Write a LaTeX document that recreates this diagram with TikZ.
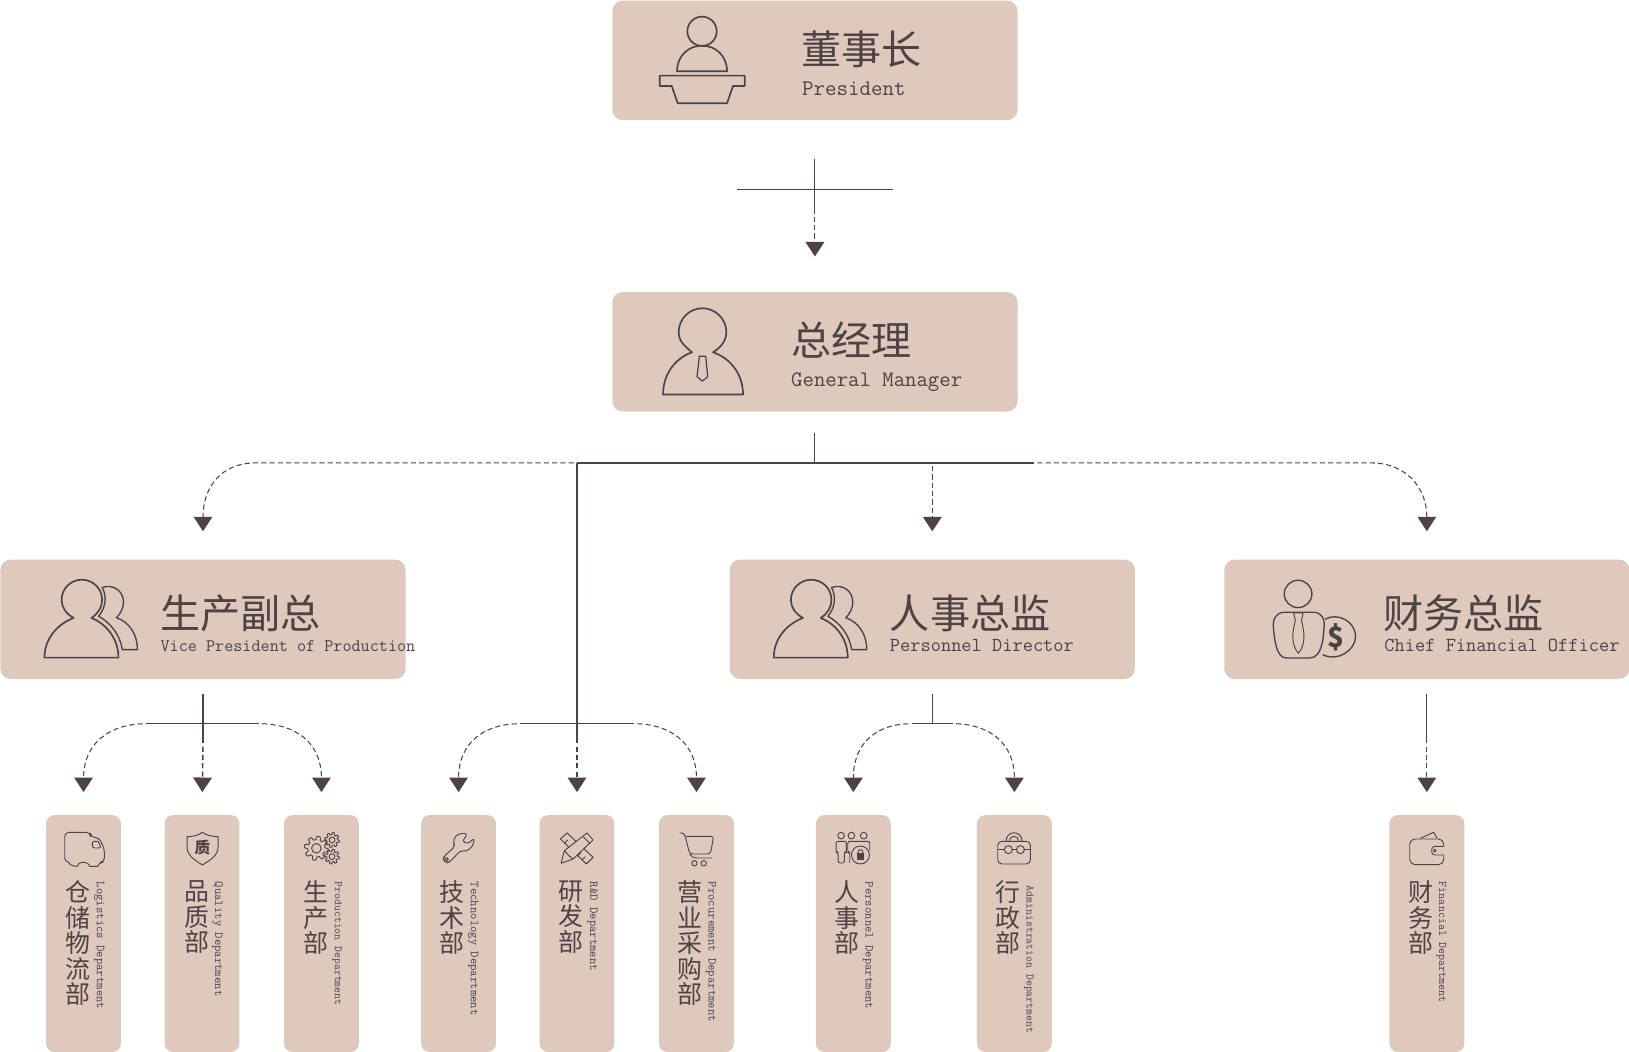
\documentclass[tikz,border=0pt]{standalone}
\usepackage{fontspec}
\usetikzlibrary{arrows.meta}
\newfontfamily\cjk{Noto Sans CJK SC}
\definecolor{boxfill}{HTML}{DFC9BD}
\definecolor{inkdark}{HTML}{4E4245}
\tikzset{
	bigbox/.style={fill=boxfill,rounded corners=10pt,inner sep=0pt,minimum width=390pt,minimum height=115pt},
	deptbox/.style={fill=boxfill,rounded corners=8pt,inner sep=0pt,minimum width=72pt,minimum height=228pt},
	titletext/.style={anchor=west,inner sep=0pt,text=inkdark,font=\cjk\fontsize{38.6}{38.6}\selectfont},
	subtext/.style={anchor=west,inner sep=0pt,text=inkdark,font=\ttfamily\fontsize{#1}{#1}\selectfont},
	deptcn/.style={anchor=north,inner sep=0pt,align=center,text=inkdark,font=\cjk\fontsize{24}{24.6}\selectfont},
	depten/.style={anchor=west,rotate=-90,inner sep=0pt,text=inkdark,font=\ttfamily\fontsize{#1}{#1}\selectfont},
	depten/.default=11.9,
	wire/.style={draw=inkdark,line width=1.1pt},
	flow/.style={draw=inkdark,line width=1pt,dash pattern=on 5pt off 3pt,dash phase=5pt,-{Triangle[width=18pt,length=14pt]}},
	iconline/.style={draw=inkdark,line width=.9pt,line join=round},
	bigicon/.style={draw=inkdark,line width=1.6pt,line join=round},
	iconframe/.style={shift={(#1)},x=.3208pt,y=-.3208pt},
	pics/pairicon/.style={code={
		\draw[bigicon] (70.5,56.2) .. controls (63,52) and (58.9,46) .. (58.9,38.9) .. controls (58.9,28) and (67.6,19.4) .. (78.4,19.4) .. controls (89.2,19.4) and (97.9,28) .. (97.9,38.9) .. controls (97.9,46) and (94,52) .. (87.6,56.2) .. controls (102,62) and (113.6,76) .. (113.6,94.4) -- (42.4,94.4) .. controls (42.4,76) and (55,62) .. (70.5,56.2) -- cycle;
		\draw[bigicon,line width=1.3pt] (94.5,54.5) .. controls (101,47) and (103,36) .. (98,27) .. controls (108,23) and (118.5,30) .. (118.5,41) .. controls (118.5,47) and (115,53) .. (111.7,56) .. controls (124,60) and (131.9,72) .. (131.9,86.7) -- (117.4,86.7) .. controls (115,72) and (106,61) .. (94.5,54.5) -- cycle;
	}},
	pics/gearicon/.style={code={
		\draw[iconline] plot[domain=0:360,samples=97] (\x:{#1*(0.86+0.14*sign(sin(8*\x)))}) -- cycle;
		\draw[iconline] (0,0) circle ({#1*0.4});
	}}
}

\begin{document}
\begin{tikzpicture}[x=1pt,y=-1pt]
	\useasboundingbox (-0.4,-0.6) rectangle (1567.6,1012);

	% big boxes
	\node[bigbox] (pres) at (784,57.5) {};
	\node[bigbox] (gm) at (784,338) {};
	\node[bigbox] (vp) at (195,595.5) {};
	\node[bigbox] (hr) at (897,595.5) {};
	\node[bigbox] (cfo) at (1373,595.5) {};

	\node[titletext] (presT) at (771,47) {董事长};
	\node[subtext=21.5] (presS) at (771.5,85) {President};
	\node[titletext] (gmT) at (761,327) {总经理};
	\node[subtext=21.3] (gmS) at (761,367) {General Manager};
	\node[titletext] (vpT) at (154,589.5) {生产副总};
	\node[subtext=17] (vpS) at (154,621) {Vice President of Production};
	\node[titletext] (hrT) at (856,589.5) {人事总监};
	\node[subtext=19.1] (hrS) at (856,620.5) {Personnel Director};
	\node[titletext] (cfoT) at (1331,589.5) {财务总监};
	\node[subtext=19.1] (cfoS) at (1332,620.5) {Chief Financial Officer};

	% department boxes
	\node[deptbox] (log) at (80,898) {};
	\node[deptbox] (qual) at (194,898) {};
	\node[deptbox] (prod) at (309,898) {};
	\node[deptbox] (tech) at (441,898) {};
	\node[deptbox] (rd) at (555,898) {};
	\node[deptbox] (proc) at (670,898) {};
	\node[deptbox] (pers) at (821,898) {};
	\node[deptbox] (admin) at (976,898) {};
	\node[deptbox] (fin) at (1373,898) {};

	\node[deptcn] (logC) at (75,847) {仓\\储\\物\\流\\部};
	\node[depten] (logE) at (95,848) {Logistics Department};
	\node[deptcn] (qualC) at (189,847) {品\\质\\部};
	\node[depten] (qualE) at (209,848) {Quality Department};
	\node[deptcn] (prodC) at (303.5,847) {生\\产\\部};
	\node[depten=11] (prodE) at (324,848) {Production Department};
	\node[deptcn] (techC) at (435,847) {技\\术\\部};
	\node[depten] (techE) at (455,848) {Technology Department};
	\node[deptcn] (rdC) at (549,847) {研\\发\\部};
	\node[depten] (rdE) at (570,848) {R\&D Department};
	\node[deptcn] (procC) at (664,847) {营\\业\\采\\购\\部};
	\node[depten] (procE) at (684,848) {Procurement Department};
	\node[deptcn] (persC) at (815,847) {人\\事\\部};
	\node[depten] (persE) at (835,848) {Personnel Department};
	\node[deptcn] (adminC) at (970,847) {行\\政\\部};
	\node[depten=11] (adminE) at (990,852) {Administration Department};
	\node[deptcn] (finC) at (1367,847) {财\\务\\部};
	\node[depten=11.3] (finE) at (1387,848) {Financial Department};

	% connectors
	\coordinate (presMid) at (784,205);
	\coordinate (crossL) at (709,181.5);
	\coordinate (crossR) at (859,181.5);
	\draw[wire,shorten <=37pt] (pres.south) -- (presMid);
	\draw[wire] (crossL) -- (crossR);
	\draw[flow,shorten >=34pt] (presMid) -- (gm.north);

	\coordinate (gmHub) at (784,445);
	\coordinate (hubL) at (555,445);
	\coordinate (hubR) at (995,445);
	\coordinate (hubHr) at (897,445);
	\coordinate (rdHub) at (555,696);
	\coordinate (rdMid) at (555,715);
	\draw[wire,shorten <=20pt] (gm.south) -- (gmHub);
	\draw[wire] (hubL) -- (hubR);
	\draw[flow,shorten >=27pt] (hubL) -- (245,445) .. controls (213,445) and (195,468) .. (195,497) -- (vp.north);
	\draw[flow,shorten >=27pt] (hubR) -- (1320,445) .. controls (1352,445) and (1373,468) .. (1373,497) -- (cfo.north);
	\draw[flow,line width=1.5pt,shorten >=27pt] (hubHr) -- (hr.north);
	\draw[wire] (hubL) -- (rdMid);

	\coordinate (rdL) at (500,696);
	\coordinate (rdR) at (610,696);
	\draw[wire] (rdL) -- (rdR);
	\draw[flow,shorten >=22pt] (rdMid) -- (rd.north);
	\draw[flow,shorten >=22pt] (rdL) .. controls (465,696) and (441,715) .. (441,748) -- (tech.north);
	\draw[flow,shorten >=22pt] (rdR) .. controls (645,696) and (670,715) .. (670,748) -- (proc.north);

	\coordinate (vpHub) at (195,696);
	\coordinate (vpMid) at (195,715);
	\coordinate (vpL) at (140,696);
	\coordinate (vpR) at (249,696);
	\draw[wire,shorten <=14pt] (vp.south) -- (vpMid);
	\draw[wire] (vpL) -- (vpR);
	\draw[flow,line width=1.5pt,shorten >=22pt] (vpMid) -- (qual.north);
	\draw[flow,shorten >=22pt] (vpL) .. controls (105,696) and (80,715) .. (80,748) -- (log.north);
	\draw[flow,shorten >=22pt] (vpR) .. controls (285,696) and (309,715) .. (309,748) -- (prod.north);

	\coordinate (hrHub) at (897,696);
	\coordinate (hrL) at (877,696);
	\coordinate (hrR) at (917,696);
	\draw[wire,shorten <=14pt] (hr.south) -- (hrHub);
	\draw[wire] (hrL) -- (hrR);
	\draw[flow,shorten >=22pt] (hrL) .. controls (843,696) and (821,715) .. (821,748) -- (pers.north);
	\draw[flow,shorten >=22pt] (hrR) .. controls (952,696) and (976,715) .. (976,748) -- (admin.north);

	\coordinate (cfoMid) at (1373,715);
	\draw[wire,shorten <=14pt] (cfo.south) -- (cfoMid);
	\draw[flow,shorten >=22pt] (cfoMid) -- (fin.north);

	% big icons
	\begin{scope}[iconframe={577.5,0}]
		\draw[bigicon] (305,92) circle (44);
		\draw[bigicon] (230,212) .. controls (230,165) and (265,135) .. (305,135) .. controls (345,135) and (380,165) .. (380,212) -- cycle;
		\draw[bigicon] (178,225) -- (433,225) -- (433,256) -- (398,256) -- (380,308) -- (232,308) -- (214,256) -- (178,256) -- cycle;
		\draw[bigicon] (275,1055) .. controls (250,1035) and (235,1020) .. (235,995) .. controls (235,955) and (267,923) .. (306,923) .. controls (345,923) and (378,955) .. (378,995) .. controls (378,1020) and (362,1040) .. (338,1055) .. controls (395,1075) and (428,1125) .. (428,1182) -- (188,1182) .. controls (188,1125) and (220,1075) .. (275,1055) -- cycle;
		\draw[bigicon,line width=1.2pt] (297,1067) -- (316,1067) -- (322,1128) -- (306,1142) -- (290,1128) -- cycle;
	\end{scope}
	\pic at (0,538) {pairicon};
	\pic at (702,538) {pairicon};
	\begin{scope}[shift={(1058.8,413.9)},x=.3252pt,y=-.3208pt]
		\draw[iconline,line width=1.3pt] (585,490) circle (41);
		\draw[iconline,line width=1.3pt] (545,545) -- (630,545) .. controls (655,545) and (665,565) .. (662,590) .. controls (660,625) and (655,682) .. (620,682) -- (550,682) .. controls (520,682) and (515,625) .. (512,590) .. controls (510,565) and (520,545) .. (545,545) -- cycle;
		\draw[iconline] (572,547) -- (600,547) -- (595,570) .. controls (603,600) and (610,640) .. (586,668) .. controls (562,640) and (569,600) .. (577,570) -- cycle;
		\draw[iconline,line width=1.3pt] (665,566) .. controls (700,545) and (755,570) .. (755,618) .. controls (755,660) and (700,695) .. (658,672);
		\node[inner sep=0pt,text=inkdark,font=\cjk\bfseries\fontsize{27}{27}\selectfont] (coinS) at (698,620) {\$};
	\end{scope}

	% small icons
	\begin{scope}[iconframe={28.88,770.05}]
		\draw[iconline,rounded corners=4pt] (115,185) -- (103,185) -- (103,95) -- (180,95) -- (180,110) -- (205,110) -- (222,145) -- (222,185) -- (205,185) .. controls (202,197) and (178,197) .. (175,185) -- (143,185) .. controls (140,197) and (118,197) .. (115,185);
		\draw[iconline,rounded corners=2pt] (186,122) -- (204,122) -- (212,142) -- (186,142) -- cycle;
		\draw[iconline] (516,95) .. controls (505,105) and (485,108) .. (470,108) -- (470,140) .. controls (470,165) and (495,180) .. (516,193) .. controls (537,180) and (563,165) .. (563,140) -- (563,108) .. controls (548,108) and (528,105) .. (516,95) -- cycle;
		\node[inner sep=0pt,text=inkdark,font=\cjk\bfseries\fontsize{15}{15}\selectfont] (qualS) at (516,142) {质};
		\pic at (858,143) {gearicon=36};
		\pic at (905,118) {gearicon=22};
		\pic at (905,168) {gearicon=22};
	\end{scope}
	\begin{scope}[iconframe={394.65,770.05}]
		\draw[iconline,rounded corners=3pt] (155,97) -- (135,105) -- (128,125) -- (134,137) -- (100,168) -- (98,178) -- (108,187) -- (118,184) -- (150,150) -- (170,152) -- (188,135) -- (192,112) -- (172,130) -- (155,122) -- (172,100) -- cycle;
		\draw[iconline] (109,176) circle (5);
		\draw[iconline,fill=boxfill] (450,115) -- (470,97) -- (548,170) -- (528,190) -- cycle;
		\draw[iconline] (462,128) -- (472,118) (480,145) -- (490,135) (515,178) -- (525,168) (502,165) -- (512,155);
		\draw[iconline,fill=boxfill] (452,188) -- (462,150) -- (530,97) -- (548,118) -- (488,175) -- cycle;
		\draw[iconline] (462,150) -- (475,165) -- (488,175) (518,108) -- (538,128);
		\draw[iconline,rounded corners=3pt] (808,97) -- (822,97) -- (838,160) -- (900,160) -- (910,107) -- (828,107);
		\draw[iconline,rounded corners=4pt] (905,172) -- (845,172) -- (838,160);
		\draw[iconline] (852,188) circle (8);
		\draw[iconline] (880,188) circle (8);
	\end{scope}
	\begin{scope}[iconframe={770.05,770.05}]
		\draw[iconline] (122,105) circle (10);
		\draw[iconline] (153,105) circle (10);
		\draw[iconline] (190,105) circle (10);
		\draw[iconline,rounded corners=2pt] (113,187) -- (113,155) -- (107,155) -- (107,122) -- (138,122) -- (138,155) -- (132,155) -- (132,187) -- cycle;
		\draw[iconline,rounded corners=2pt] (148,187) -- (148,155) -- (142,155) -- (142,122) -- (172,122) -- (208,122) -- (208,150);
		\draw[iconline] (180,163) circle (27);
		\draw[iconline,fill=inkdark] (170,158) rectangle (190,175);
		\draw[iconline] (172,158) .. controls (172,143) and (188,143) .. (188,158);
		\draw[iconline,rounded corners=4pt] (592,122) -- (690,122) -- (690,190) -- (592,190) -- cycle;
		\draw[iconline] (617,122) .. controls (617,88) and (665,88) .. (665,122);
		\draw[iconline] (628,122) .. controls (628,102) and (654,102) .. (654,122);
		\draw[iconline] (592,147) -- (612,147) (636,147) -- (648,147) (672,147) -- (690,147);
		\draw[iconline] (624,147) circle (12);
		\draw[iconline] (660,147) circle (12);
	\end{scope}
	\begin{scope}[iconframe={1318.7,770.05}]
		\draw[iconline,rounded corners=5pt] (220,137) -- (220,115) -- (118,115) -- (118,192) -- (220,192) -- (220,163);
		\draw[iconline,rounded corners=3pt] (220,137) -- (184,137) -- (184,163) -- (220,163);
		\draw[iconline] (193,150) circle (4);
		\draw[iconline] (150,113) -- (190,95) -- (200,113);
	\end{scope}
\end{tikzpicture}
\end{document}
